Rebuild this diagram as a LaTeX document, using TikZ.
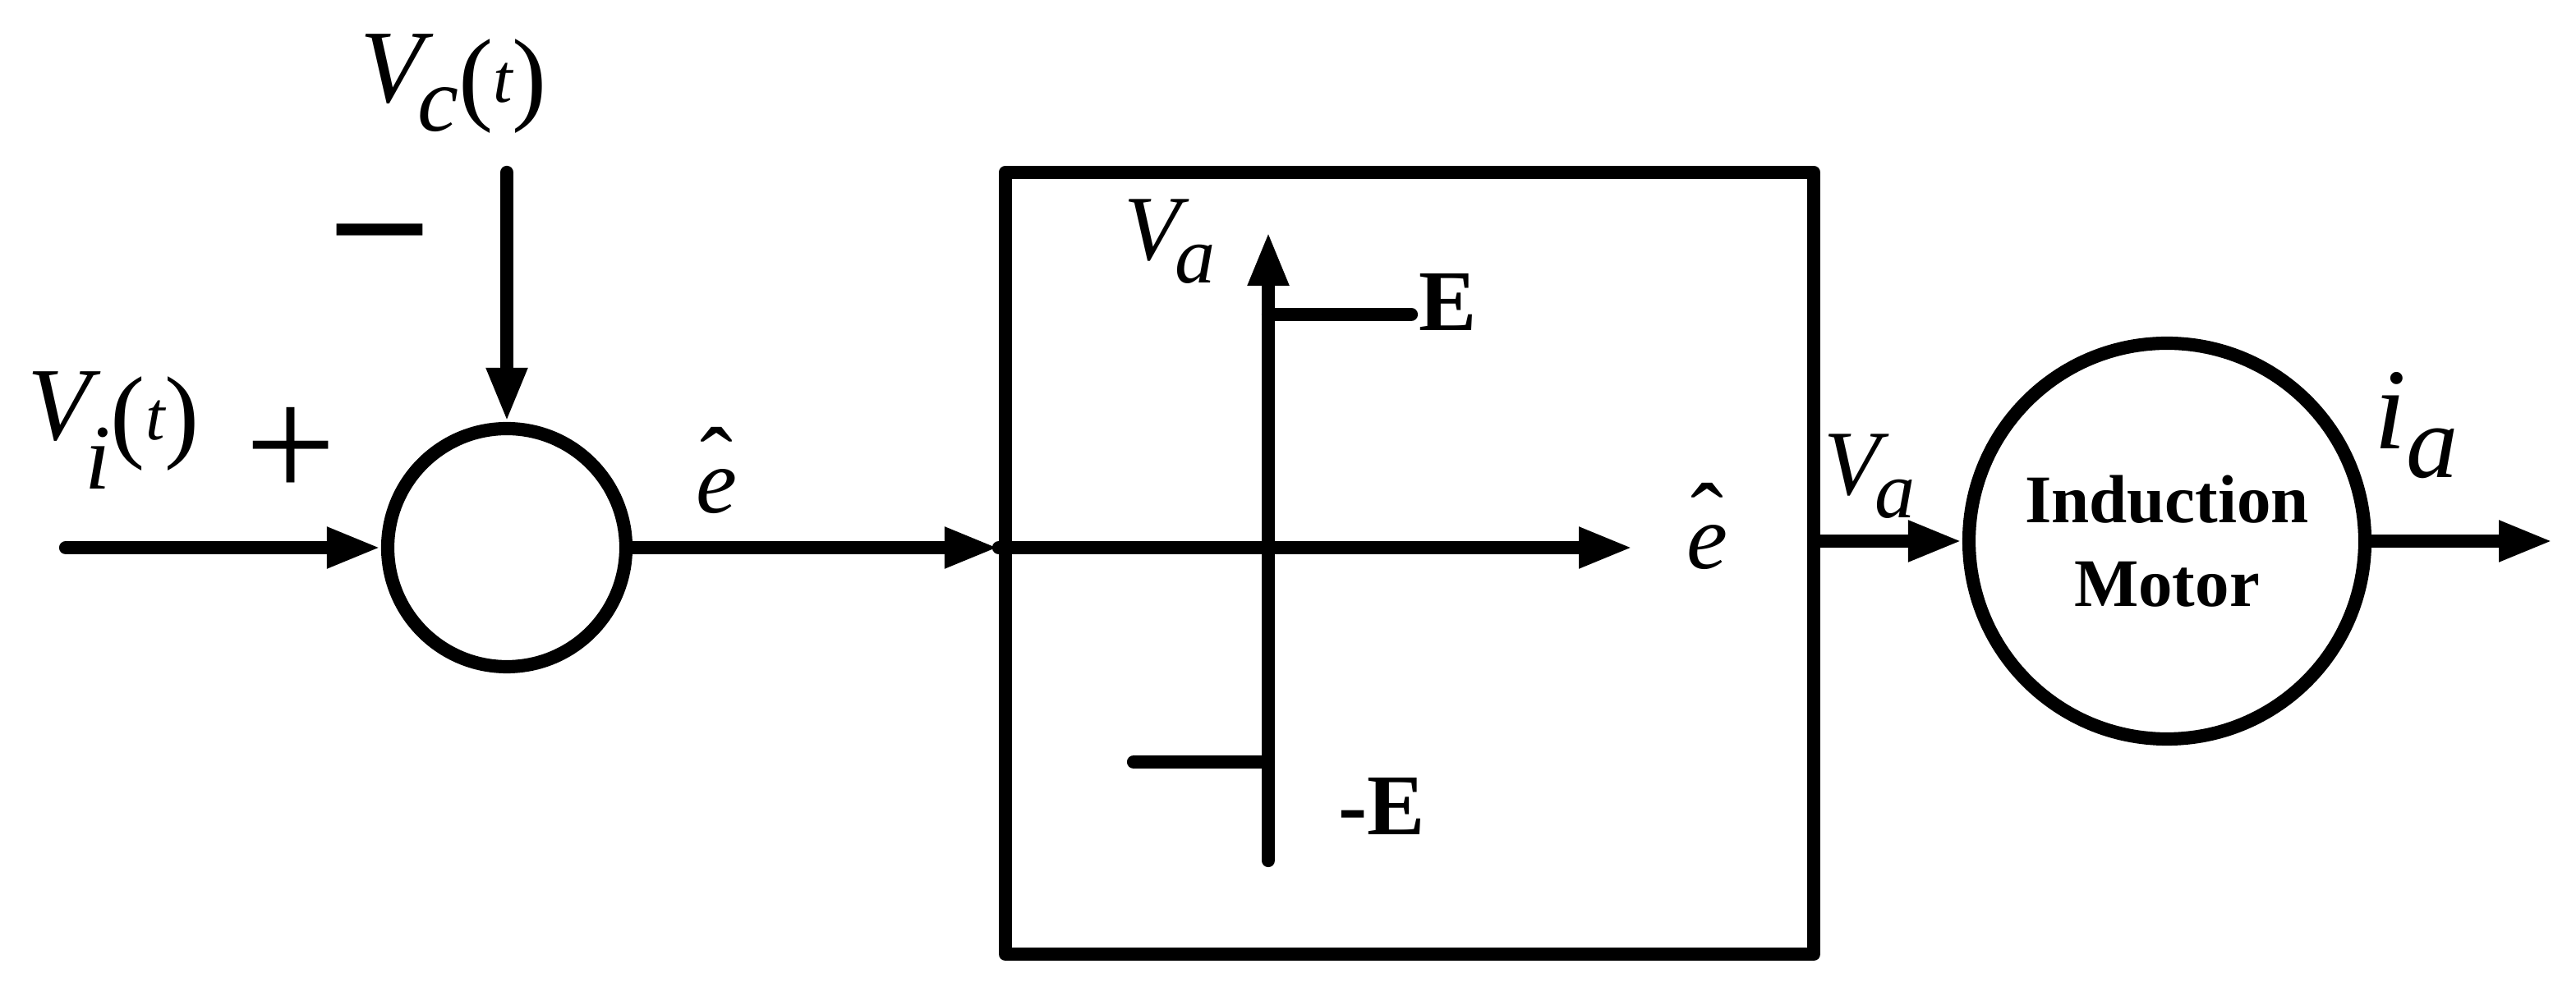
\documentclass[tikz,border=0pt]{standalone}
\usepackage{fontspec}
\setmainfont{Liberation Serif}
\usetikzlibrary{arrows.meta,positioning}
\newcommand\fs[1]{\fontsize{#1}{#1}\selectfont}
\newcommand\volt[2]{{\fs{18}\itshape V\kern-1pt\raisebox{#2}{\fs{16}#1}\raisebox{-1.5pt}{\upshape(}{\fs{12}t}\raisebox{-1.5pt}{\upshape)}}}
\newcommand\ehat{\ooalign{\fs{16}\itshape e\cr\hidewidth\raisebox{0.3em}{\fs{17}\upshape\char"02C6}\hidewidth\cr}}
\newcommand\va{{\fs{16}\itshape V\kern-1pt\raisebox{-4pt}{\fs{14}a}}}
\tikzset{
  sig/.style={line width=2.3pt,line cap=round,-{Triangle[length=0.33cm,width=0.23cm]}},
  block/.style={draw,line width=2.3pt,line join=round,inner sep=0pt},
  lab/.style={inner sep=0pt}
}
\begin{document}
\begin{tikzpicture}
  \useasboundingbox (0,0) rectangle (15.68,6.065);
  % summer, relay and motor
  \node[block,circle,minimum size=1.45cm] (sum) at (3.085,2.73) {};
  \node[block,minimum width=4.92cm,minimum height=4.76cm] (relay) at (8.58,2.635) {};
  \node[block,circle,minimum size=2.41cm,align=center,font=\bfseries\fontsize{11.8}{14.5}\selectfont] (motor) at (13.19,2.77) {Induction\\Motor};
  \coordinate (vi) at (0.40,2.73);
  \coordinate (vc) at (3.085,5.015);
  \coordinate (ia) at (15.54,2.77);
  \draw[sig] (vi) -- (sum);
  \draw[sig] (vc) -- (sum);
  \draw[sig] (sum.east) -- (sum.east -| relay.west);
  \draw[sig] (relay.east |- motor) -- (motor);
  \draw[sig] (motor) -- (ia);
  % relay characteristic
  \coordinate (xtip) at (9.94,2.73);
  \coordinate (ybot) at (7.72,0.825);
  \coordinate (ytip) at (7.72,4.655);
  \draw[sig] (sum.east -| relay.west) -- (xtip);
  \draw[sig] (ybot) -- (ytip);
  \foreach \lvl/\stop in {4.15/8.59,1.425/6.90}
    \draw[line width=2.3pt,line cap=round] (7.72,\lvl) -- (\stop,\lvl);
  % labels
  \node[lab] (vclab) at (2.76,5.555) {\volt{c}{-5pt}};
  \node[lab,font=\bfseries\fs{29}] (minus) at (2.31,4.565) {–};
  \node[lab] (vilab) at (0.69,3.445) {\volt{i}{-8.5pt}};
  \node[lab,font=\fs{28}] (plus) at (1.77,3.305) {+};
  \node[lab] (e1) at (4.36,3.075) {\ehat};
  \node[lab] (vain) at (7.12,4.595) {\va};
  \node[lab,font=\bfseries\fs{15},anchor=west] (E) at (8.63,4.225) {E};
  \node[lab,font=\bfseries\fs{15}] (mE) at (8.41,1.155) {-E};
  \node[lab] (e2) at (10.39,2.735) {\ehat};
  \node[lab] (vaout) at (11.38,3.165) {\va};
  \node[lab] (ialab) at (14.71,3.475) {{\fs{20}\itshape i}\raisebox{-5pt}{\fs{18}\itshape a}};
\end{tikzpicture}
\end{document}
